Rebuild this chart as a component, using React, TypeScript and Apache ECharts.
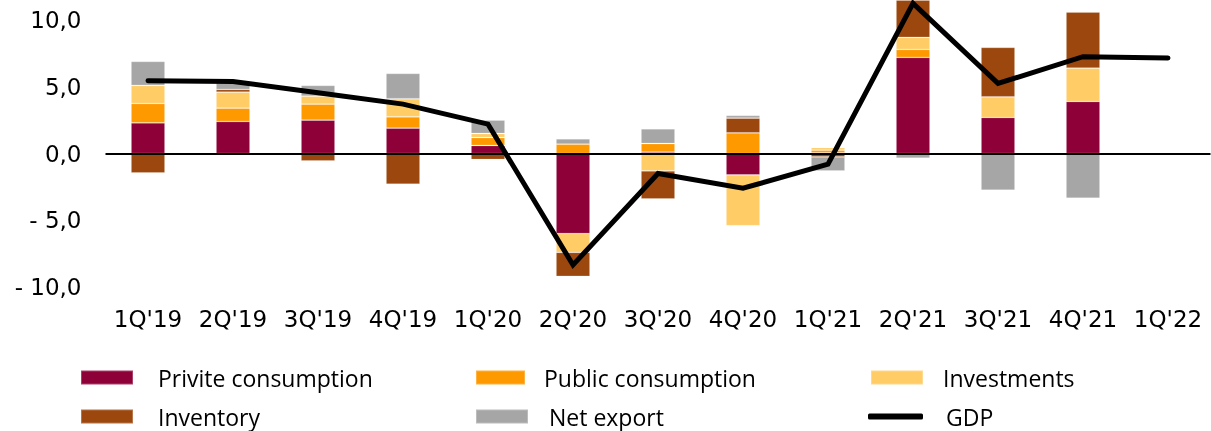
import React, { useEffect, useRef } from "react";
import * as echarts from "echarts";

const categories = ["1Q'19", "2Q'19", "3Q'19", "4Q'19", "1Q'20", "2Q'20", "3Q'20", "4Q'20", "1Q'21", "2Q'21", "3Q'21", "4Q'21", "1Q'22"];
const privateConsumption = [2.3, 2.4, 2.5, 1.9, 0.6, -6.0, 0.1, -1.6, 0.05, 7.2, 2.7, 3.9, null];
const publicConsumption = [1.45, 1.0, 1.2, 0.85, 0.6, 0.7, 0.65, 1.55, 0.2, 0.6, 0, 0, null];
const investments = [1.35, 1.2, 0.6, 1.35, 0.3, -1.4, -1.3, -3.8, 0.2, 0.9, 1.55, 2.5, null];
const inventory = [-1.45, 0.2, -0.55, -2.3, -0.45, -1.8, -2.1, 1.1, -0.25, 2.8, 3.7, 4.2, null];
const netExport = [1.8, 0.5, 0.8, 1.9, 1.0, 0.4, 1.1, 0.2, -1.05, -0.35, -2.75, -3.35, null];
const gdp = [5.45, 5.4, 4.55, 3.7, 2.2, -8.35, -1.5, -2.6, -0.8, 11.25, 5.25, 7.25, 7.15];

const axisFont = "'DejaVu Sans', Verdana, sans-serif";
const legendFont = "'Open Sans', sans-serif";

const fmt = (v: number) => {
  const s = Math.abs(v).toFixed(1).replace(".", ",");
  return v < 0 ? "- " + s : s;
};

export default function App() {
  const ref = useRef<HTMLDivElement>(null);
  useEffect(() => {
    if (!ref.current) return;
    const chart = echarts.init(ref.current, undefined, { renderer: "svg" });
    const barSeries = (name: string, data: (number | null)[], color: string) => ({
      name,
      type: "bar",
      stack: "total",
      data,
      barWidth: 34,
      itemStyle: { color, borderColor: "rgba(255,255,255,0.25)", borderWidth: 0.8 },
    });
    const legendItem = (name: string, left: number, top: number, w: number, h: number, pad: number, icon = "rect") => ({
      data: [{ name, icon }],
      left,
      top,
      itemWidth: w,
      itemHeight: h,
      padding: 0,
      selectedMode: false,
      textStyle: {
        fontFamily: legendFont,
        fontSize: 23,
        color: "#000",
        lineHeight: 22,
        padding: [0, 0, 0, pad],
      },
    });
    chart.setOption({
      animation: false,
      grid: { left: 105.5, right: 0.5, top: 0, bottom: 144, containLabel: false },
      xAxis: {
        type: "category",
        data: categories,
        axisLine: { show: false, onZero: false },
        axisTick: { show: false },
        axisLabel: { fontFamily: axisFont, fontSize: 23, color: "#000", margin: 20, interval: 0 },
      },
      yAxis: {
        type: "value",
        min: -10,
        max: 11.5,
        interval: 5,
        splitLine: { show: false },
        axisLine: { show: false },
        axisTick: { show: false },
        axisLabel: {
          fontFamily: axisFont,
          fontSize: 23,
          color: "#000",
          margin: 24,
          showMaxLabel: false,
          formatter: (v: number) => (Math.abs(v % 5) < 1e-9 ? fmt(v) : ""),
        },
      },
      legend: [
        legendItem("Privite consumption", 80, 366, 52, 14, 20),
        legendItem("Public consumption", 475, 366, 49, 14, 14),
        legendItem("Investments", 870, 366, 52, 14, 15),
        legendItem("Inventory", 80, 405, 52, 14, 20),
        legendItem("Net export", 475, 405, 52, 14, 16),
        legendItem("GDP", 868, 405, 55, 6, 18, "roundRect"),
      ],
      series: [
        {
          ...barSeries("Privite consumption", privateConsumption, "#8E0038"),
          markLine: {
            silent: true,
            symbol: "none",
            label: { show: false },
            lineStyle: { color: "#000", width: 2, type: "solid" },
            data: [{ yAxis: 0 }],
            z: 5,
          },
        },
        barSeries("Public consumption", publicConsumption, "#FF9900"),
        barSeries("Investments", investments, "#FFCC66"),
        barSeries("Inventory", inventory, "#9C470D"),
        barSeries("Net export", netExport, "#A6A6A6"),
        {
          name: "GDP",
          type: "line",
          data: gdp,
          z: 10,
          symbol: "none",
          lineStyle: { color: "#000", width: 5, cap: "round", join: "miter" },
          itemStyle: { color: "#000" },
        },
      ],
    });
    return () => chart.dispose();
  }, []);
  return <div ref={ref} style={{ position: "fixed", left: 0, top: 0, width: 1211, height: 431 }} />;
}
